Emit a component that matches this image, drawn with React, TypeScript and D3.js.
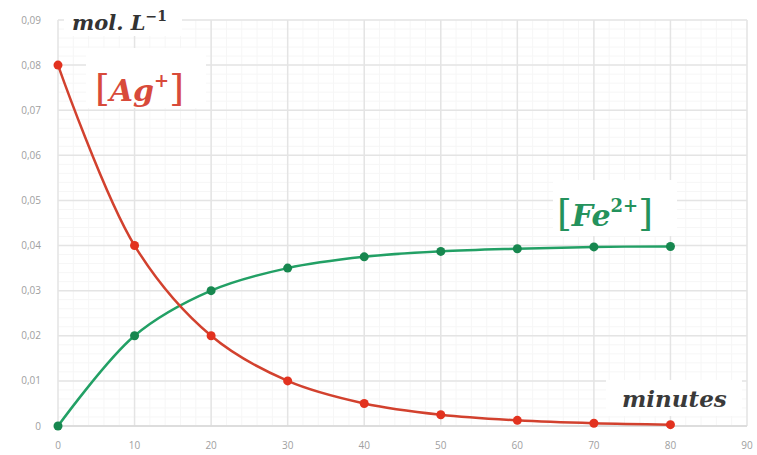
import React from "react";
import * as d3 from "d3";

const minutes = [0, 10, 20, 30, 40, 50, 60, 70, 80];
const agValues = [0.08, 0.04, 0.02, 0.01, 0.005, 0.0025, 0.00125, 0.0006, 0.0003];
const feValues = [0, 0.02, 0.03, 0.035, 0.0375, 0.0387, 0.0393, 0.0397, 0.0398];
const xTicks = [0, 10, 20, 30, 40, 50, 60, 70, 80, 90];
const yTicks = [0, 0.01, 0.02, 0.03, 0.04, 0.05, 0.06, 0.07, 0.08, 0.09];
const yTickLabels = ["0", "0,01", "0,02", "0,03", "0,04", "0,05", "0,06", "0,07", "0,08", "0,09"];

const W = 757;
const H = 455;
const left = 58;
const right = 747;
const top = 20;
const bottom = 426;

export default function App() {
  const x = d3.scaleLinear().domain([0, 90]).range([left, right]);
  const y = d3.scaleLinear().domain([0, 0.09]).range([bottom, top]);
  const minorX = d3.range(0, 90.01, 2);
  const minorY = d3.range(0, 0.0901, 0.002);
  const line = d3
    .line<number>()
    .x((_, i) => x(minutes[i]))
    .y((d) => y(d))
    .curve(d3.curveCatmullRom.alpha(0.5));
  const red = "#e2321f";
  const redLine = "#d2412e";
  const green = "#17874f";
  const greenLine = "#22a065";
  const serif = "'DejaVu Serif', 'Liberation Serif', serif";
  return (
    <svg width={W} height={H} style={{ position: "absolute", left: 0, top: 0, background: "#fff" }}>
      <rect x={0} y={0} width={W} height={H} fill="#fff" />
      <g>
        {minorX.map((v) => (
          <line key={"mx" + v} x1={x(v)} x2={x(v)} y1={top} y2={bottom} stroke="#f6f6f6" strokeWidth={1} />
        ))}
        {minorY.map((v) => (
          <line key={"my" + v} x1={left} x2={right} y1={y(v)} y2={y(v)} stroke="#f6f6f6" strokeWidth={1} />
        ))}
        {xTicks.map((v) => (
          <line key={"gx" + v} x1={x(v)} x2={x(v)} y1={top} y2={bottom} stroke="#e4e4e4" strokeWidth={1.5} />
        ))}
        {yTicks.map((v) => (
          <line key={"gy" + v} x1={left} x2={right} y1={y(v)} y2={y(v)} stroke="#e4e4e4" strokeWidth={1.5} />
        ))}
        <line x1={left} x2={right} y1={bottom} y2={bottom} stroke="#d8d8d8" strokeWidth={1.5} />
      </g>
      {/* label backgrounds */}
      <rect x={64} y={2} width={118} height={34} fill="#fff" />
      <rect x={86} y={48} width={120} height={60} fill="#fff" />
      <rect x={553} y={180} width={124} height={56} fill="#fff" />
      <rect x={606} y={380} width={136} height={36} fill="#fff" />
      <g fontFamily="'Open Sans', sans-serif" fontSize={10} fill="#a0a0a0">
        {yTicks.map((v, i) => (
          <text key={"yl" + v} x={41} y={y(v) + 3.5} textAnchor="end">
            {yTickLabels[i]}
          </text>
        ))}
        {xTicks.map((v) => (
          <text key={"xl" + v} x={x(v)} y={449} textAnchor="middle">
            {v}
          </text>
        ))}
      </g>
      <path d={line(feValues) || ""} fill="none" stroke={greenLine} strokeWidth={2.5} />
      <path d={line(agValues) || ""} fill="none" stroke={redLine} strokeWidth={2.5} />
      {feValues.map((v, i) => (
        <circle key={"fe" + i} cx={x(minutes[i])} cy={y(v)} r={4.5} fill={green} />
      ))}
      {agValues.map((v, i) => (
        <circle key={"ag" + i} cx={x(minutes[i])} cy={y(v)} r={4.5} fill={red} />
      ))}
      <text x={72} y={30} fontFamily={serif} fontStyle="italic" fontWeight="bold" fontSize={21} fill="#333">
        mol. L
        <tspan fontStyle="normal" fontSize={14} dy={-9}>
          −1
        </tspan>
      </text>
      <text x={95} y={101} fontFamily={serif} fontWeight="bold" fontSize={30} fill="#d84a3a">
        <tspan fontWeight="normal" fontSize={38}>[</tspan>
        <tspan fontStyle="italic">Ag</tspan>
        <tspan fontSize={18} dy={-14}>+</tspan>
        <tspan dy={14} fontWeight="normal" fontSize={38}>]</tspan>
      </text>
      <text x={557} y={226} fontFamily={serif} fontWeight="bold" fontSize={30} fill="#24925c">
        <tspan fontWeight="normal" fontSize={38}>[</tspan>
        <tspan fontStyle="italic">Fe</tspan>
        <tspan fontSize={18} dy={-14}>2+</tspan>
        <tspan dy={14} fontWeight="normal" fontSize={38}>]</tspan>
      </text>
      <text x={622} y={407} fontFamily={serif} fontStyle="italic" fontWeight="bold" fontSize={23} fill="#3a3a3a">
        minutes
      </text>
    </svg>
  );
}
